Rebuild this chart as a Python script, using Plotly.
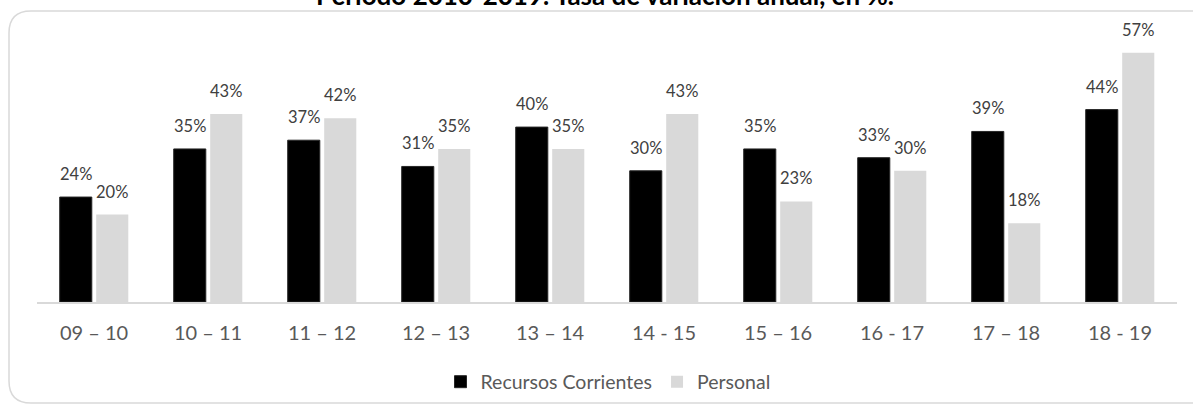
import plotly.graph_objects as go

# Periodos interanuales y tasas de variación (%)
periodos = ["09 – 10", "10 – 11", "11 – 12", "12 – 13", "13 – 14",
            "14 - 15", "15 – 16", "16 - 17", "17 – 18", "18 - 19"]
recursos_corrientes = [24, 35, 37, 31, 40, 30, 35, 33, 39, 44]
personal = [20, 43, 42, 35, 35, 43, 23, 30, 18, 57]

W, H = 1193, 407
L, R, T, B = 37, 16, 30, 105
plot_w = W - L - R
plot_h = H - T - B

FONT = "Lato, Carlito, Calibri, sans-serif"
GREY_TXT = "#595959"
LABEL_TXT = "#404040"

BAR_GAP = 0.36
GROUP_GAP = 0.12

fig = go.Figure()
fig.add_trace(go.Bar(
    name="Recursos Corrientes", x=periodos, y=recursos_corrientes,
    marker=dict(color="#000000", line=dict(color="#262626", width=1)),
    hoverinfo="x+y",
))
fig.add_trace(go.Bar(
    name="Personal", x=periodos, y=personal,
    marker=dict(color="#d9d9d9", line=dict(width=0)),
    hoverinfo="x+y",
))

# Etiquetas de datos sobre cada barra (desplazadas al centro de cada barra)
cat_px = plot_w / len(periodos)
slot_px = cat_px * (1 - BAR_GAP) / 2
annotations = []
for serie, sign in ((recursos_corrientes, -1), (personal, 1)):
    for cat, val in zip(periodos, serie):
        annotations.append(dict(
            x=cat, y=val, xref="x", yref="y", text=f"{val}%",
            xshift=sign * slot_px / 2, yshift=11,
            xanchor="center", yanchor="bottom", showarrow=False,
            font=dict(size=16.5, color=LABEL_TXT, family=FONT)))


def px_x(px):
    return (px - L) / plot_w


def px_y(py):
    return (H - B - py) / plot_h


# Título (parcialmente fuera del lienzo por arriba)
annotations.append(dict(
    text="<b>Período 2010-2019. Tasa de variación anual, en %.</b>",
    xref="paper", yref="paper", x=px_x(605), y=px_y(13),
    xanchor="center", yanchor="bottom", showarrow=False,
    font=dict(size=26, color="#000000", family=FONT)))

# Marco redondeado del gráfico
x0, x1 = px_x(9), px_x(1205)
y0, y1 = px_y(403), px_y(11)
rx, ry = 22 / plot_w, 22 / plot_h
path = (f"M {x0 + rx},{y1} L {x1},{y1} "
        f"M {x0 + rx},{y0} L {x1},{y0} "
        f"M {x0 + rx},{y1} Q {x0},{y1} {x0},{y1 - ry} "
        f"L {x0},{y0 + ry} Q {x0},{y0} {x0 + rx},{y0}")

fig.update_layout(
    width=W, height=H,
    margin=dict(l=L, r=R, t=T, b=B, autoexpand=False),
    paper_bgcolor="white", plot_bgcolor="white",
    font=dict(family=FONT, color=GREY_TXT),
    barmode="group", bargap=BAR_GAP, bargroupgap=GROUP_GAP,
    showlegend=True,
    legend=dict(orientation="h", x=px_x(608), xanchor="center",
                y=px_y(382), yanchor="middle",
                font=dict(size=19.5, color=GREY_TXT, family=FONT),
                itemwidth=30, traceorder="normal"),
    xaxis=dict(showgrid=False, showline=True, linecolor="#d9d9d9", linewidth=1.5,
               ticks="", ticklabelstandoff=12, automargin=False,
               tickfont=dict(size=20, color=GREY_TXT, family=FONT),
               fixedrange=True),
    yaxis=dict(range=[0, 62.2], visible=False, showgrid=False, fixedrange=True),
    shapes=[dict(type="path", xref="paper", yref="paper", path=path,
                 line=dict(color="#d9d9d9", width=1.5), layer="below")],
    annotations=annotations,
)

fig.write_html("out.html")
